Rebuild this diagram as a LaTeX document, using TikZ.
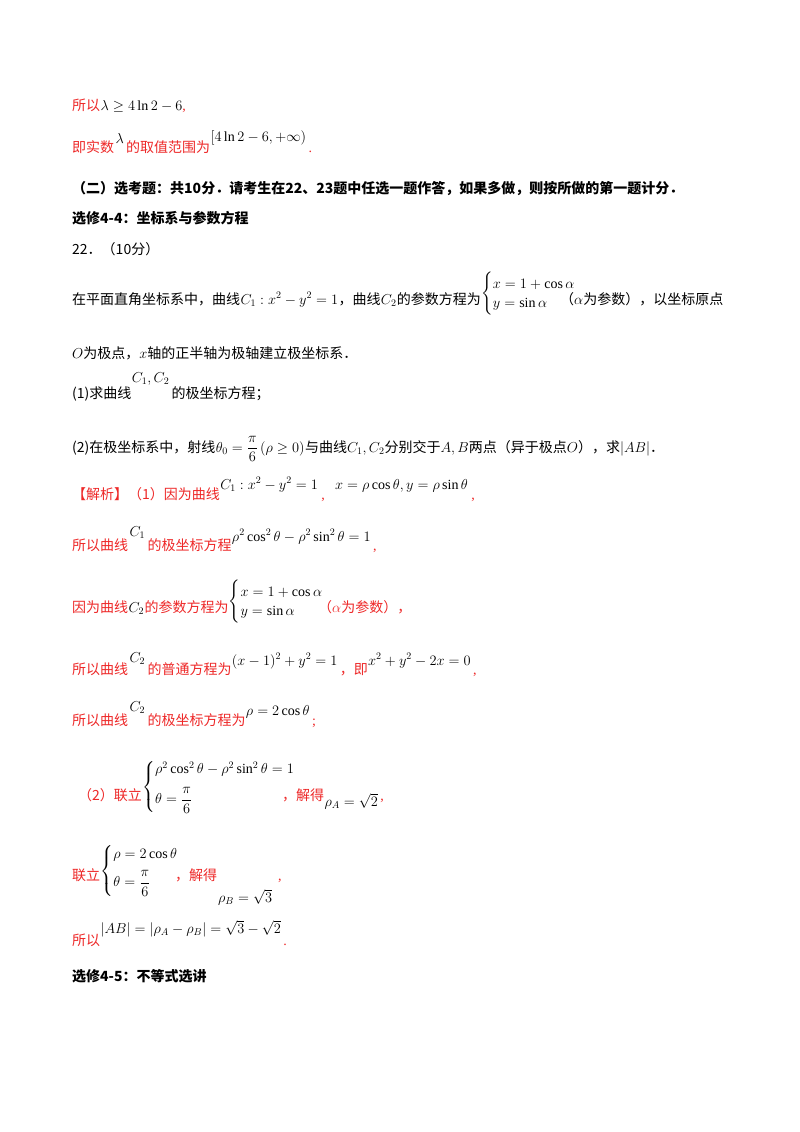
\documentclass[tikz,border=0pt]{standalone}
\usepackage{amsmath}
\usepackage{fontspec}
\setmainfont{Liberation Serif}
\newfontfamily\cjk{Noto Sans CJK SC}
\definecolor{ans}{RGB}{238,40,40}
\begin{document}
\begin{tikzpicture}[x=1pt,y=-1pt,
  t/.style={anchor=base west,inner sep=0pt,font=\fontsize{14}{16}\selectfont\cjk},
  r/.style={t,text=ans},
  m/.style={anchor=base west,inner sep=0pt,font=\fontsize{14}{16}\selectfont},
  b/.style={t,font=\fontsize{14}{16}\selectfont\cjk\bfseries}]
\useasboundingbox[fill=white] (0,0) rectangle (800,1132);
\node[r] (a1) at (72,110) {所以};
\node[m] (a1m) at (a1.base east) {$\lambda\geq 4\ln 2-6$\textcolor{ans}{,}};
\node[r] (a2) at (72,152) {即实数};
\node[m] (a2l) at ([xshift=1pt,yshift=9pt]a2.base east) {$\lambda$};
\node[r] (a2b) at ([xshift=2pt,yshift=-9pt]a2l.base east) {的取值范围为};
\node[m] (a2m) at ([yshift=11pt]a2b.base east) {$\left[4\ln 2-6,+\infty\right)$};
\node[m] (a2d) at ([xshift=2pt,yshift=-11pt]a2m.base east) {\textcolor{ans}{.}};
\node[b] (h1) at (72,193) {（二）选考题：共10分．请考生在22、23题中任选一题作答，如果多做，则按所做的第一题计分．};
\node[b] (h2) at (72,223) {选修4-4：坐标系与参数方程};
\node[t] (q0) at (72,254) {22．（10分）};
\node[t] (q1) at (72,304) {在平面直角坐标系中，曲线};
\node[m] (q1m) at (q1.base east) {$C_1:x^2-y^2=1$};
\node[t] (q1b) at (q1m.base east) {，曲线};
\node[m] (q1c) at (q1b.base east) {$C_2$};
\node[t] (q1d) at (q1c.base east) {的参数方程为};
\node[m,anchor=west] (q1s) at ([yshift=10pt]q1d.base east) {$\begin{cases}x=1+\cos\alpha\\ y=\sin\alpha\end{cases}$};
\node[t] (q1e) at (560,304) {（$\alpha$为参数），以坐标原点};
\node[t] (q2) at (72,358) {$O$为极点，$x$轴的正半轴为极轴建立极坐标系．};
\node[t] (q3) at (72,398) {(1)求曲线};
\node[m] (q3m) at ([yshift=16pt]q3.base east) {$C_1,C_2$};
\node[t] (q3b) at ([xshift=2pt,yshift=-16pt]q3m.base east) {的极坐标方程；};
\node[t] (q4) at (72,452) {(2)在极坐标系中，射线};
\node[m] (q4m) at (q4.base east) {$\theta_0=\dfrac{\pi}{6}\left(\rho\geq0\right)$};
\node[t] (q4b) at (q4m.base east) {与曲线$C_1,C_2$分别交于$A,B$两点（异于极点$O$），求$|AB|$．};
\node[r] (s1) at (72,499) {【解析】（1）因为曲线};
\node[m] (s1m) at ([yshift=10pt]s1.base east) {$C_1:x^2-y^2=1$};
\node[m] (s1c) at ([xshift=3pt,yshift=-10pt]s1m.base east) {\textcolor{ans}{,}};
\node[m] (s1n) at ([xshift=10pt,yshift=10pt]s1c.base east) {$x=\rho\cos\theta,y=\rho\sin\theta$};
\node[m] (s1d) at ([xshift=3pt,yshift=-10pt]s1n.base east) {\textcolor{ans}{,}};
\node[r] (s2) at (72,550) {所以曲线};
\node[m] (s2c) at ([xshift=1pt,yshift=14pt]s2.base east) {$C_1$};
\node[r] (s2b) at ([xshift=2pt,yshift=-14pt]s2c.base east) {的极坐标方程};
\node[m] (s2m) at ([yshift=9pt]s2b.base east) {$\rho^2\cos^2\theta-\rho^2\sin^2\theta=1$};
\node[m] (s2d) at ([xshift=2pt,yshift=-9pt]s2m.base east) {\textcolor{ans}{,}};
\node[r] (s3) at (72,612) {因为曲线};
\node[m] (s3c) at (s3.base east) {$C_2$};
\node[r] (s3b) at (s3c.base east) {的参数方程为};
\node[m,anchor=west] (s3s) at ([yshift=10pt]s3b.base east) {$\begin{cases}x=1+\cos\alpha\\ y=\sin\alpha\end{cases}$};
\node[r] (s3d) at (318,612) {（$\alpha$为参数），};
\node[r] (s4) at (72,674) {所以曲线};
\node[m] (s4c) at ([xshift=1pt,yshift=12pt]s4.base east) {$C_2$};
\node[r] (s4b) at ([xshift=2pt,yshift=-12pt]s4c.base east) {的普通方程为};
\node[m] (s4m) at ([yshift=9pt]s4b.base east) {$(x-1)^2+y^2=1$};
\node[r] (s4d) at ([xshift=2pt,yshift=-9pt]s4m.base east) {，即};
\node[m] (s4n) at ([yshift=9pt]s4d.base east) {$x^2+y^2-2x=0$};
\node[m] (s4e) at ([xshift=2pt,yshift=-9pt]s4n.base east) {\textcolor{ans}{,}};
\node[r] (s5) at (72,725) {所以曲线};
\node[m] (s5c) at ([xshift=1pt,yshift=14pt]s5.base east) {$C_2$};
\node[r] (s5b) at ([xshift=2pt,yshift=-14pt]s5c.base east) {的极坐标方程为};
\node[m] (s5m) at ([yshift=10pt]s5b.base east) {$\rho=2\cos\theta$};
\node[m] (s5d) at ([xshift=2pt,yshift=-10pt]s5m.base east) {\textcolor{ans}{;}};
\node[r] (s6) at (78,800) {（2）联立};
\node[m,anchor=west] (s6s) at ([yshift=13pt]s6.base east) {$\begin{cases}\rho^2\cos^2\theta-\rho^2\sin^2\theta=1\\[8pt] \theta=\dfrac{\pi}{6}\end{cases}$};
\node[r] (s6b) at (282,800) {，解得};
\node[m] (s6m) at ([yshift=-6pt]s6b.base east) {$\rho_A=\sqrt2$};
\node[m] (s6d) at ([xshift=2pt,yshift=6pt]s6m.base east) {\textcolor{ans}{,}};
\node[r] (s7) at (72,880) {联立};
\node[m,anchor=west] (s7s) at ([yshift=9pt]s7.base east) {$\begin{cases}\rho=2\cos\theta\\[6pt] \theta=\dfrac{\pi}{6}\end{cases}$};
\node[r] (s7b) at (175,880) {，解得};
\node[m] (s7m) at (218,902) {$\rho_B=\sqrt3$};
\node[m] (s7d) at (278,880) {\textcolor{ans}{,}};
\node[r] (s8) at (72,945) {所以};
\node[m] (s8m) at ([yshift=12pt]s8.base east) {$|AB|=|\rho_A-\rho_B|=\sqrt3-\sqrt2$};
\node[m] (s8d) at ([xshift=2pt,yshift=-12pt]s8m.base east) {\textcolor{ans}{.}};
\node[b] (h3) at (72,981) {选修4-5：不等式选讲};
\end{tikzpicture}
\end{document}
